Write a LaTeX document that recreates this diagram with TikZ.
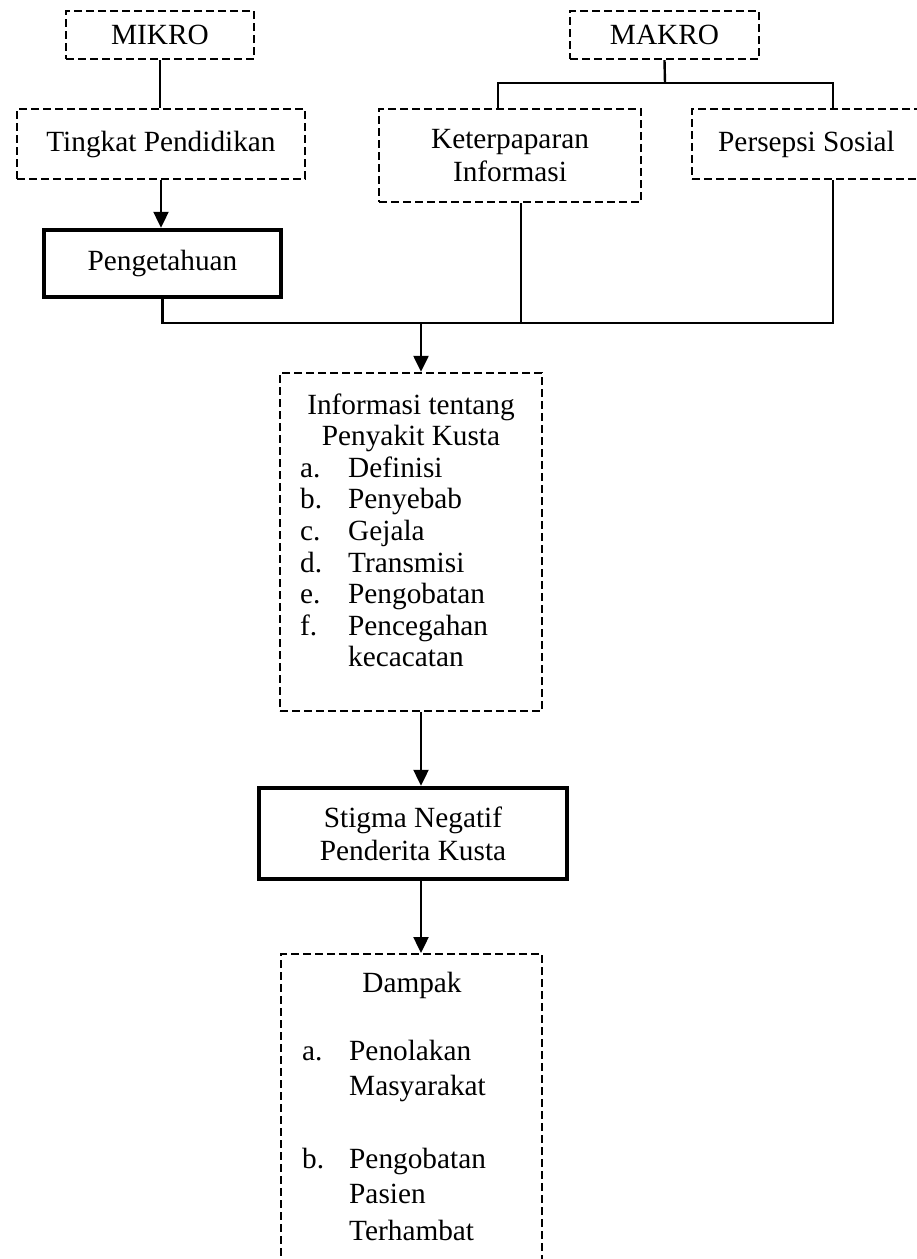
\documentclass[tikz,border=0pt]{standalone}
\usepackage{fontspec}
\setmainfont{Liberation Serif}
\usetikzlibrary{arrows.meta,calc}
\begin{document}
\begin{tikzpicture}[x=1pt,y=-1pt,
  every node/.style={font=\fontsize{29.3}{33}\selectfont, inner sep=0pt},
  dbox/.style={draw, dash pattern=on 8pt off 4pt, line width=2.4pt},
  tbox/.style={draw, line width=4.5pt},
  conn/.style={line width=2.4pt},
  arr/.style={line width=2.4pt, -{Triangle[length=16pt,width=15pt]}},
  lbl/.style={anchor=base west},
  ctr/.style={anchor=base},
]
\useasboundingbox (0,0) rectangle (917,1259);
\clip (0,0) rectangle (917,1259);

% top row
\node[dbox, minimum width=188pt, minimum height=48pt] (mikro) at (160,35) {MIKRO};
\node[dbox, minimum width=189pt, minimum height=48pt] (makro) at (664.5,35) {MAKRO};

% second row
\node[dbox, minimum width=288pt, minimum height=70pt] (tingkat) at (161,144) {Tingkat Pendidikan};
\node[dbox, minimum width=262pt, minimum height=93pt, align=center] (ket) at (510,155.5) {Keterpaparan\\Informasi};
\node[dbox, minimum height=70pt, text width=196pt, inner xsep=26pt, align=flush left, anchor=west] (pers) at (691,144) {Persepsi Sosial};

% Pengetahuan
\node[tbox, minimum width=237pt, minimum height=67pt] (peng) at (162.5,263.5) {Pengetahuan};

% info box
\node[dbox, minimum width=262pt, minimum height=338pt] (info) at (411,542) {};
\node[ctr] (i1) at (411,414) {Informasi tentang};
\node[ctr] (i2) at (411,445.6) {Penyakit Kusta};
\node[lbl] (ia) at (300,477.2) {\makebox[48pt][l]{a.}Definisi};
\node[lbl] (ib) at (300,508.8) {\makebox[48pt][l]{b.}Penyebab};
\node[lbl] (ic) at (300,540.4) {\makebox[48pt][l]{c.}Gejala};
\node[lbl] (id) at (300,572.0) {\makebox[48pt][l]{d.}Transmisi};
\node[lbl] (ie) at (300,603.6) {\makebox[48pt][l]{e.}Pengobatan};
\node[lbl] (if) at (300,635.2) {\makebox[48pt][l]{f.}Pencegahan};
\node[lbl] (ig) at (348,666.8) {kecacatan};

% Stigma
\node[tbox, minimum width=308pt, minimum height=91pt, align=center] (stig) at (413,833.5) {Stigma Negatif\\Penderita Kusta};

% Dampak
\node[dbox, minimum width=261pt, minimum height=420pt, anchor=north] (damp) at (411.5,953) {};
\node[ctr] (d0) at (412,992) {Dampak};
\node[lbl] (da) at (302,1060) {\makebox[47pt][l]{a.}Penolakan};
\node[lbl] (da2) at (349,1095) {Masyarakat};
\node[lbl] (db) at (302,1168) {\makebox[47pt][l]{b.}Pengobatan};
\node[lbl] (db2) at (349,1203) {Pasien};
\node[lbl] (db3) at (349,1240) {Terhambat};

% connectors
\draw[conn] (mikro.south) -- (mikro.south |- tingkat.north);
\draw[arr] (tingkat.south) -- (tingkat.south |- peng.north);

\coordinate (mb) at (665,83);
\draw[conn] (makro.south) -- (mb);
\draw[conn] (ket.north -| 498,0) |- (mb) -| (pers.north -| 833,0);

\coordinate (bus) at (421,323);
\draw[conn] (peng.south) |- (833,323) -- (pers.south -| 833,0);
\draw[conn] (ket.south -| 521,0) -- (521,323);
\draw[arr] (bus) -- (info.north -| bus);
\draw[arr] (info.south -| bus) -- (stig.north -| bus);
\draw[arr] (stig.south -| bus) -- (damp.north -| bus);
\end{tikzpicture}
\end{document}
